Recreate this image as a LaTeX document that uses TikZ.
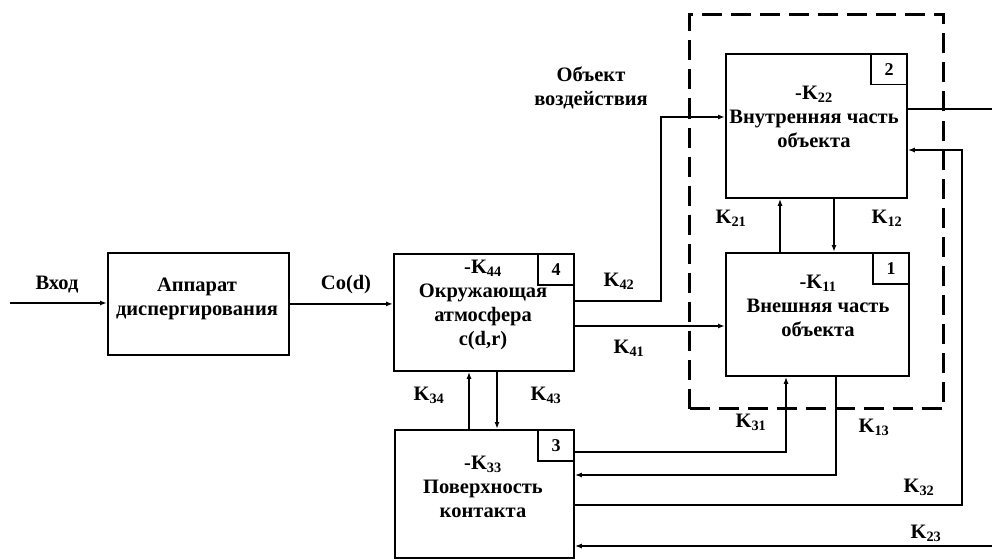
\documentclass[tikz,border=0pt]{standalone}
\usepackage{fontspec}
\setmainfont{Liberation Serif}
\usetikzlibrary{arrows.meta,calc}
\newcommand\Kx[1]{K\textsubscript{#1}}
\begin{document}
\begin{tikzpicture}[x=1pt,y=-1pt,
  every node/.style={font=\bfseries\fontsize{20.5}{24}\selectfont, inner sep=0pt},
  block/.style={draw, line width=1.8pt, anchor=north west},
  numbox/.style={draw, line width=1.5pt, anchor=north east, minimum width=36pt, minimum height=31pt, font=\bfseries\fontsize{18}{20}\selectfont},
  btext/.style={align=center},
  arr/.style={line width=1.4pt, -{Latex[length=7pt,width=5pt]}},
  ln/.style={line width=1.4pt},
  dashbox/.style={draw, line width=3pt, dash pattern=on 20pt off 9pt, anchor=north west}
]
\useasboundingbox (0,0) rectangle (992,559);
% dashed object frame
\node[dashbox, minimum width=254pt, minimum height=394pt] (obj) at (688,13) {};
% blocks
\node[block, minimum width=181pt, minimum height=102pt] (A) at (107,252) {};
\node[block, minimum width=180pt, minimum height=117pt] (B4) at (393,253) {};
\node[block, minimum width=181pt, minimum height=144pt] (B2) at (725,53) {};
\node[block, minimum width=183pt, minimum height=123pt] (B1) at (725,252) {};
\node[block, minimum width=179pt, minimum height=128pt] (B3) at (394,429) {};
% number boxes
\node[numbox] (n4) at (B4.north east) {4};
\node[numbox] (n2) at (B2.north east) {2};
\node[numbox] (n1) at (B1.north east) {1};
\node[numbox] (n3) at (B3.north east) {3};
% block texts
\node[btext] (tA) at (197,299) {Аппарат\\диспергирования};
\node[btext] (t4) at (483,305) {-\Kx{44}\\Окружающая\\атмосфера\\c(d,r)};
\node[btext] (t2) at (814,117) {-\Kx{22}\\Внутренняя часть\\объекта};
\node[btext] (t1) at (818,306) {-\Kx{11}\\Внешняя часть\\объекта};
\node[btext] (t3) at (483,487) {-\Kx{33}\\Поверхность\\контакта};
\node[btext] (tobj) at (591,88) {Объект\\воздействия};
% labels
\node (lin) at (57,285) {Вход};
\node (lco) at (346,285) {Co(d)};
\node (l42) at (619,281) {\Kx{42}};
\node (l41) at (629,348) {\Kx{41}};
\node (l34) at (429,395) {\Kx{34}};
\node (l43) at (546,395) {\Kx{43}};
\node (l21) at (731,218) {\Kx{21}};
\node (l12) at (887,218) {\Kx{12}};
\node (l31) at (751,422) {\Kx{31}};
\node (l13) at (874,427) {\Kx{13}};
\node (l32) at (919,487) {\Kx{32}};
\node (l23) at (926,533) {\Kx{23}};
% connectors
\coordinate (in) at (10,303);
\draw[arr] (in) -- (A.west|-in);
\draw[arr] (A.east) -- (B4.west|-A.east);
\draw[arr] (B4.east|-0,301) -| (661,117) -- (B2.west|-0,117);
\draw[arr] (B4.east|-0,326) -- (B1.west|-0,326);
\draw[arr] (B1.north-|780,0) -- (B2.south-|780,0);
\draw[arr] (B2.south-|834,0) -- (B1.north-|834,0);
\draw[arr] (B3.east|-0,452) -| (B1.south-|786,0);
\draw[arr] (B1.south-|836,0) |- (B3.east|-0,475);
\draw[arr] (B3.east|-0,505) -| (962,150) -- (B2.east|-0,150);
\coordinate (o23a) at (992,109);
\coordinate (o23b) at (992,546);
\draw[ln] (B2.east|-0,109) -- (o23a);
\draw[arr] (o23b) -- (B3.east|-0,546);
\draw[arr] (B3.north-|469,0) -- (B4.south-|469,0);
\draw[arr] (B4.south-|497,0) -- (B3.north-|497,0);
\end{tikzpicture}
\end{document}
